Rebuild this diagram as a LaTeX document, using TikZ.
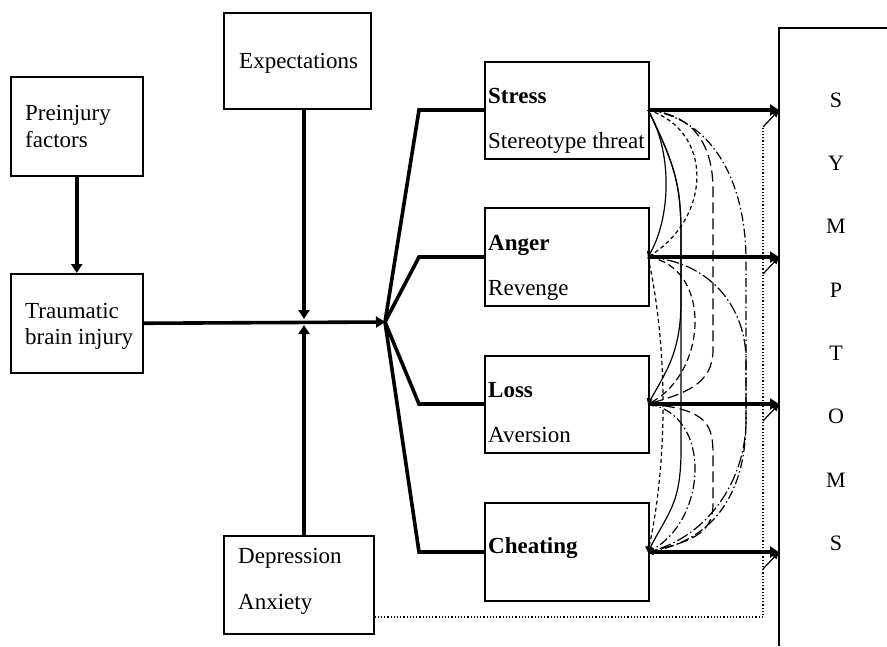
\documentclass[tikz,border=0pt]{standalone}
\usepackage{fontspec}
\setmainfont{Liberation Serif}
\usetikzlibrary{arrows.meta,calc}
\begin{document}
\begin{tikzpicture}[x=1pt,y=-1pt,
  box/.style={draw, line width=1.5pt, anchor=north west, inner sep=0pt},
  txt/.style={anchor=base west, inner sep=0pt, font=\fontsize{23}{26}\selectfont},
  heavy/.style={line width=3.6pt},
  bigtip/.style={-{Triangle[length=9pt,width=11pt]}},
  link/.style={line width=1.2pt, -{Straight Barb[length=4pt,width=7pt]}},
  sdash/.style={dash pattern=on 4pt off 3pt},
  mdash/.style={dash pattern=on 7pt off 4pt},
  ldash/.style={dash pattern=on 11pt off 5pt},
  dashdot/.style={dash pattern=on 9pt off 3pt on 1.5pt off 3pt},
  ldashdot/.style={dash pattern=on 12pt off 3pt on 1.5pt off 3pt},
  feedback/.style={line width=1.2pt, dash pattern=on 1.2pt off 2pt}
]
\useasboundingbox (0,0) rectangle (887,646);

% input boxes
\node[box, minimum width=132pt, minimum height=99pt] (pre) at (10,76) {};
\node[box, minimum width=132pt, minimum height=99pt] (tbi) at (10,273) {};
\node[box, minimum width=147pt, minimum height=96pt] (exp) at (223,12) {};
\node[box, minimum width=150pt, minimum height=98pt] (dep) at (223,535) {};

\node[txt] (preA) at (25,120) {Preinjury};
\node[txt] (preB) at (25,147) {factors};
\node[txt] (tbiA) at (25,318) {Traumatic};
\node[txt] (tbiB) at (25,344) {brain injury};
\node[txt] (expA) at (239,68) {Expectations};
\node[txt] (depA) at (238,563) {Depression};
\node[txt] (depB) at (238,609) {Anxiety};

% emotion boxes
\node[box, minimum width=164pt, minimum height=97pt] (stress) at (484,61) {};
\node[box, minimum width=164pt, minimum height=98pt] (anger) at (484,207) {};
\node[box, minimum width=164pt, minimum height=97pt] (loss) at (484,355) {};
\node[box, minimum width=164pt, minimum height=98pt] (cheat) at (484,502) {};

\node[txt] (stA) at (488,103) {\textbf{Stress}};
\node[txt] (stB) at (488,148) {Stereotype threat};
\node[txt] (anA) at (488,250) {\textbf{Anger}};
\node[txt] (anB) at (488,295) {Revenge};
\node[txt] (loA) at (488,397) {\textbf{Loss}};
\node[txt] (loB) at (488,442) {Aversion};
\node[txt] (chA) at (488,553) {\textbf{Cheating}};

% key points
\coordinate (jx) at (304,322);
\coordinate (fan) at (385,322);
\coordinate (oS) at (648,110);
\coordinate (oA) at (648,257);
\coordinate (oL) at (648,404);
\coordinate (oC) at (648,552);
\coordinate (barTop) at (779,28);
\coordinate (barBot) at (779,646);
\coordinate (dc) at (763,617);
\coordinate (dt) at (763,127);

% symptoms column
\draw[line width=1.6pt] (barBot) -- (barTop) -- (887,28);
\foreach \l [count=\i] in {S,Y,M,P,T,O,M,S}
  \node[inner sep=0pt, font=\fontsize{22}{22}\selectfont] (sym\i) at (836,{100+63.3*(\i-1)}) {\l};

% main flow
\draw[heavy,bigtip] (pre.south -| tbi.north) -- (tbi.north);
\draw[heavy,bigtip] (tbi.east) -- (fan);
\draw[heavy,bigtip,shorten >=3pt] (exp.south -| jx) -- (jx);
\draw[heavy,bigtip,shorten >=3pt] (dep.north -| jx) -- (jx);

\draw[heavy] (fan) -- (419,110) -- (stress.west |- oS);
\draw[heavy] (fan) -- (419,257) -- (anger.west |- oA);
\draw[heavy] (fan) -- (419,404) -- (loss.west |- oL);
\draw[heavy] (fan) -- (419,552) -- (cheat.west |- oC);

\foreach \p in {oS,oA,oL,oC}
  \draw[heavy,bigtip] (\p) -- (barTop |- \p);

% dotted feedback from depression/anxiety
\draw[feedback] (dep.east |- dc) -- (dc) -- (dt);
\foreach \p in {oS,oA,oL,oC}
  \draw[line width=1.2pt, -{Triangle[length=7pt,width=6pt]}] ($(\p)+(115,17)$) -- (barTop |- \p);

% interactions between emotions
\draw[link] (oS) .. controls +(24,40) and +(24,-40) .. (oA);
\draw[link,sdash] (oS) .. controls +(65,20) and +(65,-40) .. (oA);
\draw[link] (oS) .. controls +(30,60) and +(0,-50) .. (681,240) -- (681,300) .. controls +(0,50) and +(20,-35) .. (oL);
\draw[link] (oS) .. controls +(30,60) and +(0,-50) .. (681,240) -- (681,450) .. controls +(0,55) and +(20,-40) .. (oC);
\draw[link,ldash] (oS) .. controls +(50,5) and +(0,-40) .. (713,190) -- (713,350) .. controls +(0,35) and +(35,-10) .. (oL);
\draw[link,dashdot] (oS) .. controls +(70,10) and +(0,-70) .. (746,260) -- (746,420) .. controls +(0,80) and +(60,-10) .. (oC);
\draw[link,mdash] (oA) .. controls +(65,10) and +(60,-30) .. (oL);
\draw[link,sdash] (oA) .. controls +(20,90) and +(20,-90) .. (oC);
\draw[link,ldashdot] (oA) .. controls +(65,5) and +(0,-50) .. (746,360) -- (746,420) .. controls +(0,60) and +(60,-15) .. (oC);
\draw[link,dashdot] (oL) .. controls +(65,10) and +(60,-30) .. (oC);
\draw[link,ldash] (oL) .. controls +(60,5) and +(0,-30) .. (713,455) -- (713,505) .. controls +(0,30) and +(40,-10) .. (oC);
\end{tikzpicture}
\end{document}
